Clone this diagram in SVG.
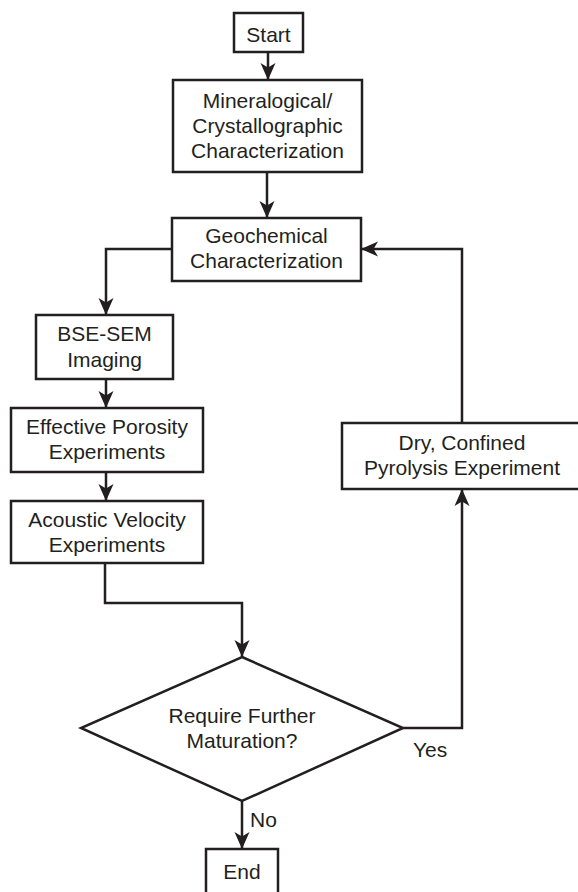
<svg xmlns="http://www.w3.org/2000/svg" width="578" height="892" viewBox="0 0 578 892">
<style>
.box{fill:#fff;stroke:#231f20;stroke-width:2.5}
.ln{fill:none;stroke:#231f20;stroke-width:2.5;marker-end:url(#ah)}
.ln2{fill:none;stroke:#231f20;stroke-width:2.5}
text{font-family:"Liberation Sans",Arial,sans-serif;font-size:21px;fill:#231f20;text-anchor:middle}
.lbl{text-anchor:start}
</style>
<defs>
<marker id="ah" markerUnits="userSpaceOnUse" markerWidth="20" markerHeight="20" viewBox="-18 -9 20 18" refX="0" refY="0" orient="auto">
<path d="M0,0 L-17,-7.5 L-12.5,0 L-17,7.5 Z" fill="#231f20"/>
</marker>
</defs>
<rect width="578" height="892" fill="#fff"/>
<g id="connectors">
<path class="ln" d="M268,52 V80"/>
<path class="ln" d="M267,172 V218"/>
<path class="ln" d="M172,249 H106 V315"/>
<path class="ln" d="M106,379 V408"/>
<path class="ln" d="M106,472 V501"/>
<path class="ln" d="M105,563 V603 H242 V657"/>
<path class="ln" d="M242,801 V849"/>
<path class="ln" d="M403,728 H462 V489"/>
<path class="ln" d="M462,423 V249 H361"/>
</g>
<g id="start">
<rect class="box" x="234" y="13" width="69" height="39"/>
<text x="268.5" y="42">Start</text>
</g>
<g id="mineralogical">
<rect class="box" x="173" y="80" width="189" height="92"/>
<text x="267.5" y="108">Mineralogical/</text>
<text x="267.5" y="133">Crystallographic</text>
<text x="267.5" y="158">Characterization</text>
</g>
<g id="geochemical">
<rect class="box" x="172" y="218" width="189" height="63"/>
<text x="266.5" y="243">Geochemical</text>
<text x="266.5" y="268">Characterization</text>
</g>
<g id="bse">
<rect class="box" x="36" y="315" width="137" height="64"/>
<text x="104.5" y="341">BSE-SEM</text>
<text x="104.5" y="367">Imaging</text>
</g>
<g id="porosity">
<rect class="box" x="11" y="408" width="192" height="64"/>
<text x="107" y="434">Effective Porosity</text>
<text x="107" y="459">Experiments</text>
</g>
<g id="acoustic">
<rect class="box" x="11" y="501" width="192" height="62"/>
<text x="107" y="527">Acoustic Velocity</text>
<text x="107" y="552">Experiments</text>
</g>
<g id="decision">
<polygon class="box" points="242,657 403,728 242,801 81,728"/>
<text x="242" y="723">Require Further</text>
<text x="242" y="748">Maturation?</text>
<text class="lbl" x="413" y="757">Yes</text>
<text class="lbl" x="250" y="827">No</text>
</g>
<g id="pyrolysis">
<rect class="box" x="342" y="423" width="240" height="66"/>
<text x="462" y="450">Dry, Confined</text>
<text x="462" y="475">Pyrolysis Experiment</text>
</g>
<g id="end">
<rect class="box" x="206" y="849" width="72" height="50"/>
<text x="242" y="879">End</text>
</g>
</svg>
